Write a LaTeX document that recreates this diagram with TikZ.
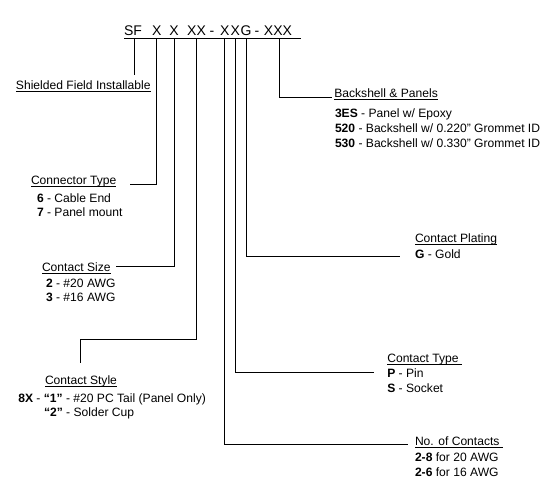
\documentclass[tikz,border=0pt]{standalone}
\usepackage{fontspec}
\setmainfont{Liberation Sans}
\newcommand\myul[1]{\setbox0\hbox{#1}\rlap{\vrule height -1.6pt depth 2.4pt width \wd0}\box0}
\begin{document}
\begin{tikzpicture}[x=1pt,y=-1pt,
  every node/.style={inner sep=0pt,outer sep=0pt},
  lbl/.style={anchor=base west,font=\fontsize{12.1}{14}\selectfont},
  hdr/.style={anchor=base,font=\fontsize{14}{16}\selectfont},
  conn/.style={line width=0.8pt}]
\useasboundingbox (0,0) rectangle (548,494);
% header
\node[hdr] (hSF) at (133,36) {SF};
\node[hdr] (hX1) at (156.7,36) {X};
\node[hdr] (hX2) at (174,36) {X};
\node[hdr] (hXX) at (196.5,36) {XX};
\node[hdr] (hd1) at (212,36) {-};
\node[hdr] (hX3) at (224.7,36) {X};
\node[hdr] (hX4) at (235.3,36) {X};
\node[hdr] (hG) at (246,36) {G};
\node[hdr] (hd2) at (257,36) {-};
\node[hdr] (hXXX) at (278,36) {XXX};
\coordinate (ulL) at (124,38.3);
\coordinate (ulR) at (300.7,38.3);
\draw[conn] (ulL) -- (ulR);
% labels
\node[lbl] (shf) at (16,89.5) {\myul{Shielded Field Installable}};
\node[lbl] (bsp) at (334.3,97.8) {\myul{Backshell \& Panels}};
\node[lbl] (bs1) at (335,117.5) {\textbf{3ES} - Panel w/ Epoxy};
\node[lbl] (bs2) at (335,132.5) {\textbf{520} - Backshell w/ 0.220'' Grommet ID};
\node[lbl] (bs3) at (335,147.5) {\textbf{530} - Backshell w/ 0.330'' Grommet ID};
\node[lbl] (ct) at (31,184.3) {\myul{Connector Type}};
\node[lbl] (ct1) at (37,203) {\textbf{6} - Cable End};
\node[lbl] (ct2) at (37,216.5) {\textbf{7} - Panel mount};
\node[lbl] (cs) at (42,271.5) {\myul{Contact Size}};
\node[lbl] (cs1) at (46,287.5) {\textbf{2} - \#20 AWG};
\node[lbl] (cs2) at (46,301) {\textbf{3} - \#16 AWG};
\node[lbl] (cst) at (45,384.5) {\myul{Contact Style}};
\node[lbl] (cst1) at (18.3,402) {\textbf{8X} - \textbf{“1”} - \#20 PC Tail (Panel Only)};
\node[lbl] (cst2) at (44,416) {\textbf{“2”} - Solder Cup};
\node[lbl] (cp) at (415,242.3) {\myul{Contact Plating}};
\node[lbl] (cp1) at (415,258) {\textbf{G} - Gold};
\node[lbl] (cty) at (387.3,362) {\myul{Contact Type }};
\node[lbl] (cty1) at (387.3,377) {\textbf{P} - Pin};
\node[lbl] (cty2) at (387.3,392) {\textbf{S} - Socket};
\node[lbl] (nc) at (415,445.5) {\myul{No. of Contacts }};
\node[lbl] (nc1) at (415,461.5) {\textbf{2-8} for 20 AWG};
\node[lbl] (nc2) at (415,476) {\textbf{2-6} for 16 AWG};
% connector end points
\coordinate (e1) at (134.7,75.5);
\coordinate (e2) at (130,184.3);
\coordinate (e3) at (116,266.7);
\coordinate (e4) at (80,362.7);
\coordinate (e5) at (408,444);
\coordinate (e6) at (374,372);
\coordinate (e7) at (400,256);
\coordinate (e8) at (331.7,97.3);
% connectors
\draw[conn] (e1 |- ulL) -- (e1);
\draw[conn] (hX1 |- ulL) |- (e2);
\draw[conn] (hX2 |- ulL) |- (e3);
\draw[conn] (hXX |- ulL) |- (80,339.3) -- (e4);
\draw[conn] (hX3 |- ulL) |- (e5);
\draw[conn] (hX4 |- ulL) |- (e6);
\draw[conn] (hG |- ulL) |- (e7);
\draw[conn] (279,38.3) |- (e8);
\end{tikzpicture}
\end{document}
